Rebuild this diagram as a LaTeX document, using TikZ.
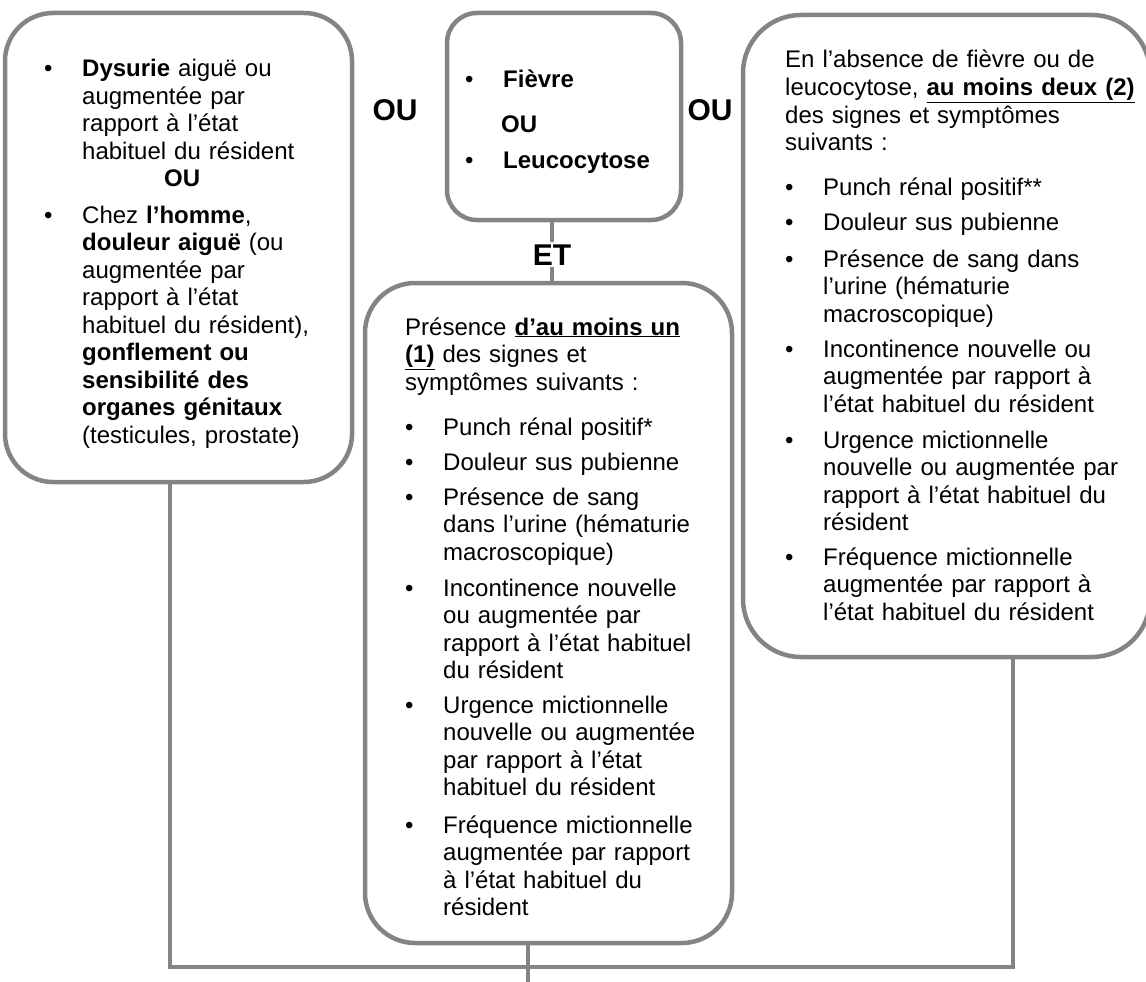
\documentclass[tikz,border=0pt]{standalone}
\usepackage{fontspec}
\setmainfont{Liberation Sans}
\definecolor{linegray}{RGB}{132,132,132}
\newcommand{\bodyfont}{\fontsize{24}{27.5}\selectfont}
\newcommand{\bigfont}{\fontsize{30}{36}\selectfont\bfseries}
\newcommand{\bitem}[4]{%
  \node[bul] (#1b) at ({#2-38},{#3}) {\textbullet};
  \node[txt] (#1) at ({#2},{#3}) {#4};}
\begin{document}
\begin{tikzpicture}[x=1pt,y=-1pt,
  roundbox/.style={draw=linegray, line width=4.5pt, rectangle, anchor=north west, inner sep=0pt, outer sep=0pt},
  wire/.style={draw=linegray, line width=4.5pt, line join=miter},
  txt/.style={anchor=base west, inner sep=0pt, text width=440pt, align=left, font=\bodyfont},
  bul/.style={anchor=base west, inner sep=0pt, font=\bodyfont},
  biglabel/.style={anchor=base, inner sep=1pt, font=\bigfont}]
\useasboundingbox (0,0) rectangle (1146,982);
\clip (0,0) rectangle (1146,982);

% boxes
\node[roundbox, rounded corners=48pt, minimum width=347pt, minimum height=469pt] (lbox) at (5,13) {};
\node[roundbox, rounded corners=30pt, minimum width=234pt, minimum height=207pt] (fbox) at (447,13) {};
\node[roundbox, rounded corners=50pt, minimum width=367pt, minimum height=660pt] (mbox) at (365,283) {};
\node[roundbox, rounded corners=58pt, minimum width=407pt, minimum height=642pt] (rbox) at (743,15) {};

% connectors
\coordinate (jl) at (170,967);
\coordinate (jr) at (1013,967);
\coordinate (jm) at (528,967);
\coordinate (bot) at (528,984);
\coordinate (et) at (552,252);
\draw[wire] (lbox.south -| jl) -- (jl) -- (jr) -- (rbox.south -| jr);
\draw[wire] (mbox.south -| jm) -- (bot);
\draw[wire] (fbox.south -| et) -- (mbox.north -| et);

% big labels
\node[biglabel] (ou1) at (395,120) {OU};
\node[biglabel] (ou2) at (710,120) {OU};
\node[biglabel, fill=white, inner sep=2pt] (etl) at (552,265) {ET};

% left box
\bitem{l1}{82}{77}{\textbf{Dysurie} aiguë ou\\augmentée par\\rapport à l’état\\habituel du résident\\\hspace*{82pt}\textbf{OU}}
\bitem{l2}{82}{223}{Chez \textbf{l’homme},\\\textbf{douleur aiguë} (ou\\augmentée par\\rapport à l’état\\habituel du résident),\\\textbf{gonflement ou}\\\textbf{sensibilité des}\\\textbf{organes génitaux}\\(testicules, prostate)}

% top middle box
\bitem{f1}{503}{88}{\textbf{Fièvre}}
\node[txt] (f2) at (501,132) {\textbf{OU}};
\bitem{f3}{503}{168}{\textbf{Leucocytose}}

% middle box
\node[txt] (m0) at (405,335) {Présence \underline{\textbf{d’au moins un}}\\\underline{\textbf{(1)}} des signes et\\symptômes suivants :};
\bitem{m1}{443}{435}{Punch rénal positif*}
\bitem{m2}{443}{470}{Douleur sus pubienne}
\bitem{m3}{443}{505}{Présence de sang\\dans l’urine (hématurie\\macroscopique)}
\bitem{m4}{443}{596}{Incontinence nouvelle\\ou augmentée par\\rapport à l’état habituel\\du résident}
\bitem{m5}{443}{713}{Urgence mictionnelle\\nouvelle ou augmentée\\par rapport à l’état\\habituel du résident}
\bitem{m6}{443}{833}{Fréquence mictionnelle\\augmentée par rapport\\à l’état habituel du\\résident}

% right box
\node[txt] (r0) at (785,68) {En l’absence de fièvre ou de\\leucocytose, \underline{\textbf{au moins deux (2)}}\\des signes et symptômes\\suivants :};
\bitem{r1}{823}{195}{Punch rénal positif**}
\bitem{r2}{823}{230}{Douleur sus pubienne}
\bitem{r3}{823}{267}{Présence de sang dans\\l’urine (hématurie\\macroscopique)}
\bitem{r4}{823}{357}{Incontinence nouvelle ou\\augmentée par rapport à\\l’état habituel du résident}
\bitem{r5}{823}{448}{Urgence mictionnelle\\nouvelle ou augmentée par\\rapport à l’état habituel du\\résident}
\bitem{r6}{823}{565}{Fréquence mictionnelle\\augmentée par rapport à\\l’état habituel du résident}
\end{tikzpicture}
\end{document}
